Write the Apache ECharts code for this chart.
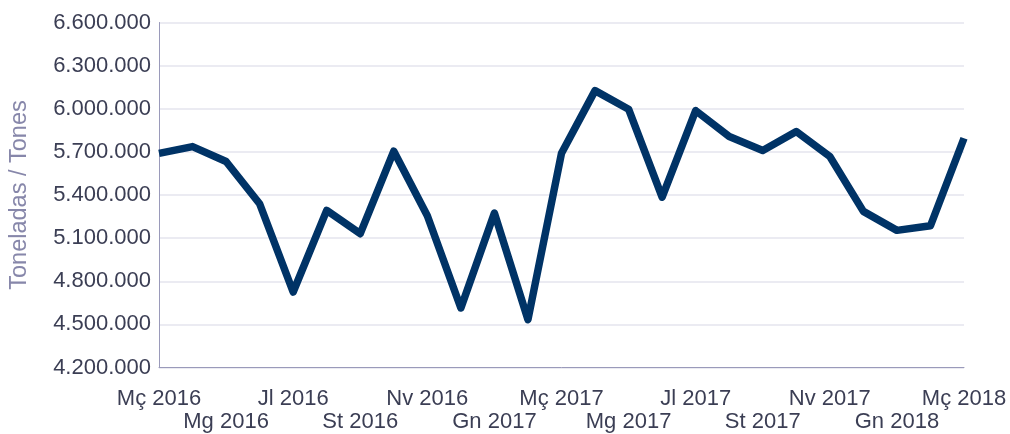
<!DOCTYPE html>
<html>
<head>
<meta charset="utf-8">
<script src="https://cdn.jsdelivr.net/npm/echarts@6/dist/echarts.min.js"></script>
<style>
html,body{margin:0;padding:0;background:#fff;}
#chart{width:1010px;height:434px;}
</style>
</head>
<body>
<div id="chart"></div>
<script>
const categories = [
  'Mç 2016','Ab 2016','Mg 2016','Jn 2016','Jl 2016','Ag 2016','St 2016','Oc 2016','Nv 2016','Ds 2016',
  'Gn 2017','Fb 2017','Mç 2017','Ab 2017','Mg 2017','Jn 2017','Jl 2017','Ag 2017','St 2017','Oc 2017',
  'Nv 2017','Ds 2017','Gn 2018','Fb 2018','Mç 2018'
];
const tones = [
  5690000, 5737000, 5633000, 5339000, 4725000, 5293000, 5131000, 5705000, 5256000, 4614000,
  5274000, 4533000, 5690000, 6126000, 5997000, 5385000, 5987000, 5807000, 5709000, 5841000,
  5668000, 5286000, 5154000, 5186000, 5795000
];
const yTicks = { min: 4200000, max: 6600000, interval: 300000 };
const yTitle = 'Toneladas / Tones';

function fmtThousands(v){
  return String(Math.round(v)).replace(/\B(?=(\d{3})+(?!\d))/g, '.');
}

const FONT = '"Liberation Sans", Arial, sans-serif';
const chart = echarts.init(document.getElementById('chart'), null, {renderer:'canvas'});
chart.setOption({
  animation: false,
  backgroundColor: '#ffffff',
  grid: { left: 158, right: 46, top: 22.5, bottom: 66.5, containLabel: false },
  xAxis: {
    type: 'category',
    data: categories,
    boundaryGap: false,
    axisLine: { show: true, lineStyle: { color: '#9a9aba', width: 1 } },
    axisTick: { show: false },
    splitLine: { show: false },
    axisLabel: {
      interval: 0,
      hideOverlap: false,
      margin: 20,
      color: '#3b3e54',
      fontFamily: FONT,
      fontSize: 22,
      lineHeight: 23,
      formatter: function(val, idx){
        if (idx % 2 === 1) return '';
        if (idx % 4 === 2) return '\n' + val;
        return val;
      }
    }
  },
  yAxis: {
    type: 'value',
    min: yTicks.min,
    max: yTicks.max,
    interval: yTicks.interval,
    name: yTitle,
    nameLocation: 'middle',
    nameGap: 127,
    nameRotate: 90,
    nameTextStyle: {
      color: '#8787aa',
      fontFamily: FONT,
      fontSize: 23.5
    },
    axisLine: { show: true, lineStyle: { color: '#9a9aba', width: 1 } },
    axisTick: { show: false },
    splitLine: { show: true, lineStyle: { color: '#e4e4ee', width: 1.5 } },
    axisLabel: {
      margin: 8,
      color: '#3b3e54',
      fontFamily: FONT,
      fontSize: 22,
      formatter: fmtThousands
    }
  },
  series: [{
    type: 'line',
    data: tones,
    showSymbol: false,
    symbol: 'none',
    lineStyle: { color: '#003366', width: 7.5, join: 'round', cap: 'butt' },
    clip: true,
    z: 5
  }]
});
</script>
</body>
</html>
